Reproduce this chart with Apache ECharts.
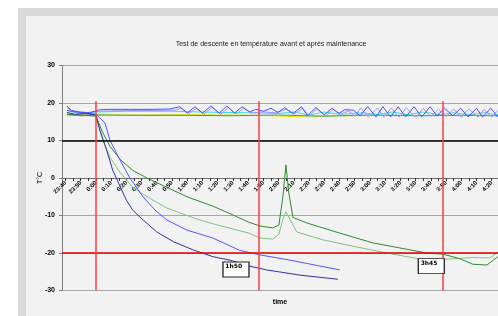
<!DOCTYPE html>
<html><head><meta charset="utf-8">
<script src="https://cdn.jsdelivr.net/npm/echarts@6/dist/echarts.min.js"></script>
<style>html,body{margin:0;padding:0;background:#fff}#c{width:498px;height:316px}</style>
</head><body><div id="c"></div>
<script>
// time in minutes relative to 0:00 ; temperature in °C
const xLabelValues = [-20,-10,0,10,20,30,40,50,60,70,80,90,100,110,120,130,140,150,160,170,180,190,200,210,220,230,240,250,260];
const xTickValues = [-20,-15,-10,-5,0,5,10,15,20,25,30,35,40,45,50,55,60,65,70,75,80,85,90,95,100,105,110,115,120,125,130,135,140,145,150,155,160,165,170,175,180,185,190,195,200,205,210,215,220,225,230,235,240,245,250,255,260,265,270];
const refMarkers = [0, 107, 228];          // red vertical lines
const levelBlack = 10, levelRed = -20;
const boxLabels = [{name:'1h50', t:92, v:-24.4}, {name:'3h45', t:220.3, v:-23.5}];

const navyCurve = [[-19,17.5],[-14,17],[-7,17.2],[0,16.8],[2.5,12.8],[7,7.5],[11,2.1],[16,-2.4],[20,-5.9],[24,-8.5],[31,-11.2],[40,-14.4],[51,-17],[64,-19.2],[77,-21],[88,-21.9],[101,-23.5],[112,-24.5],[134,-25.9],[159,-27]];
const blueCurve = [[-19,18],[-10.5,17.5],[0,17],[2.6,16],[5.9,14.7],[9.2,10.1],[15.8,4.8],[22.3,0],[30.9,-5],[38.7,-8.5],[46.6,-11.2],[59.8,-13.9],[76.8,-16],[94.5,-19.3],[107.7,-20.5],[127.4,-21.9],[160.2,-24.5]];
const darkGreenCurve = [[-19,17],[0,16.5],[4.6,12],[9.2,8.5],[15.8,5],[24.3,2],[33.5,0],[46.6,-2.5],[59.8,-5],[76.8,-7.5],[88,-9.5],[100.5,-11.8],[107.7,-12.8],[116.2,-13.3],[120.2,-12.5],[122.8,-5],[124.8,3.5],[126.7,-4],[129.4,-10.5],[138.6,-12],[160.2,-14.7],[181.9,-17.3],[204.2,-19],[217.4,-20],[227.8,-20.3],[239,-21.5],[247.6,-23],[256.8,-23.2],[264,-21]];
const lightGreenCurve = [[-19,16.8],[0,16.8],[4.6,10],[9.2,5.5],[15.8,1.5],[24.3,-2.5],[33.5,-5],[46.6,-8],[59.8,-10],[68.3,-11.2],[79.5,-12.5],[100.5,-14.7],[107.7,-16],[116.2,-16.3],[120.2,-15],[122.8,-11],[124.8,-9],[127.4,-11],[132,-14.4],[149.1,-16.5],[171.4,-18.4],[191.1,-20],[212.8,-21.6],[227.8,-21.7],[247.6,-21.2],[258.8,-21.3],[264,-19.8]];
const blueZigzag = [[-19,19.2],[-16,18],[-10.5,17.6],[-4,17.4],[2.5,18.2],[9,18.3],[22,18.3],[35.5,18.3],[48.5,18.4],[55,19],[60,17.3],[65,19],[70,17.3],[75.5,19.2],[81,17.3],[86,19.2],[91,17.3],[96,19],[101,17.6],[105,18.3],[110,17.8],[115,18.6],[119.5,17.5],[124,18.7],[129.5,17.2],[135,19],[139,16.6],[144.5,18.8],[150,16.8],[155,18.6],[159.5,17.2],[163.5,18.2],[169,18.1],[173.5,16.6],[178.5,19],[184,16.3],[188.5,19],[193.5,16.3],[198.5,19],[203.5,16.3],[209,19],[214,16.3],[219.5,19],[224,16.6],[229,18.6],[234.5,16.6],[239.5,18.6],[244.5,16.3],[250,18.6],[254,16.3],[259.5,18.6],[264,16.3]];
const lavenderZigzag = [[-19,18.8],[-15,17.6],[-10,17.2],[-3,17.6],[3,17.8],[10,17.9],[25,18],[40,18],[52,18.1],[56,18.6],[61,17.2],[66,18.6],[71,17],[76,18.8],[82,17],[87,18.8],[92,17.1],[97,18.6],[102,17.4],[110,17.6],[118,17.4],[125,18.3],[130,17],[136,18.6],[140,16.4],[145,18.5],[151,16.6],[156,18.3],[161,17],[166,17.9],[170,16.5],[174,18.7],[179,16.2],[185,18.7],[189,16.2],[194,18.7],[199,16.2],[204,18.7],[210,16.2],[215,18.6],[220,16.4],[225,18.4],[230,16.4],[235,18.4],[240,16.2],[245,18.4],[251,16.2],[255,18.3],[260,16.2],[264,18]];
const cyanLine = [[-19,18],[-12,17.3],[0,17.6],[20,17.8],[50,17.8],[80,17.5],[100,17.4],[120,17.2],[130,17.6],[140,16.8],[150,17.6],[160,17],[175,17.4],[185,16.9],[195,17.6],[205,16.9],[215,17.6],[225,16.9],[235,17.4],[245,16.9],[255,17.4],[264,16.9]];
const tealLine = [[-19,17],[-10,16.6],[0,16.8],[30,16.7],[60,16.7],[90,16.6],[120,16.8],[150,16.5],[180,16.8],[210,16.6],[240,16.7],[264,16.6]];
const yellowLine = [[-19,16.6],[-5,16.9],[0,16.9],[30,16.8],[60,16.9],[90,16.8],[110,16.7],[125,16.4],[140,16.3],[160,16.6],[200,16.7],[264,16.7]];

function fmtTime(t){
  const m = ((Math.round(t) % 1440) + 1440) % 1440;
  const h = Math.floor(m/60), mm = m % 60;
  return h + ':' + (mm < 10 ? '0' : '') + mm;
}
function line(name, data, color, z){
  return {name, type:'line', data, showSymbol:false, symbol:'none', z: z||2,
    lineStyle:{color, width:1}, itemStyle:{color}, animation:false, silent:true};
}
const chart = echarts.init(document.getElementById('c'), null, {renderer:'canvas'});
const gridTop = 65.5, gridBottom = 25.5;
const plotH = 316 - gridTop - gridBottom;
const yMin = -30, yMax = 30;
// move x axis (line, ticks, labels) up to the 0 °C level
const xAxisOffset = -plotH * (0 - yMin) / (yMax - yMin);
const markSeries = line('marks', [], '#000', 1);
markSeries.markLine = {
  silent:true, symbol:['none','none'], animation:false, label:{show:false},
  data:[
    {yAxis:levelBlack, lineStyle:{color:'#000', width:1.5, type:'solid'}},
    {yAxis:levelRed, lineStyle:{color:'#e00000', width:1.5, type:'solid'}},
    ...refMarkers.map(t => [{coord:[t,20.5], lineStyle:{color:'#ff3b3b', width:1.5, type:'solid'}},{coord:[t,-30]}])
  ]
};
markSeries.markPoint = {
  silent:true, animation:false, symbol:'rect', symbolSize:[26,15],
  itemStyle:{color:'#fff', borderColor:'#222', borderWidth:1},
  label:{show:true, formatter:'{b}', position:[3,2], fontSize:6, fontWeight:'bold', color:'#000', fontFamily:'DejaVu Sans'},
  data: boxLabels.map(b => ({name:b.name, coord:[b.t, b.v]}))
};
chart.setOption({
  animation:false,
  backgroundColor:'#ffffff',
  title:{text:'Test de descente en température avant et après maintenance', left:266, top:36, textAlign:'center',
    textStyle:{fontSize:7, fontWeight:'normal', color:'#222', fontFamily:'Liberation Sans'}},
  graphic:[
    {type:'rect', z:-10, silent:true, shape:{x:18,y:8,width:500,height:320}, style:{fill:'#d9d9d9'}},
    {type:'rect', z:-9, silent:true, shape:{x:26,y:16,width:490,height:310}, style:{fill:'#f2f2f2'}},
    {type:'text', x:280, y:302, silent:true, style:{text:'time', fontSize:7, fontWeight:'bold', fill:'#000', align:'center', verticalAlign:'middle', fontFamily:'Liberation Sans'}}
  ],
  grid:{left:62, right:-12, top:gridTop, bottom:gridBottom, outerBoundsMode:'none', containLabel:false},
  xAxis:{type:'value', min:-22.3, max:272, position:'bottom', offset:xAxisOffset,
    axisLine:{show:true, onZero:false, lineStyle:{color:'#707070', width:1}},
    axisTick:{show:true, customValues:xTickValues, length:3, lineStyle:{color:'#333'}},
    axisLabel:{customValues:xLabelValues, rotate:45, formatter:fmtTime, fontSize:6, fontWeight:'bold', color:'#000', margin:4, fontFamily:'Liberation Sans'},
    splitLine:{show:false}},
  yAxis:{type:'value', min:yMin, max:yMax, interval:10,
    name:'T°C', nameLocation:'middle', nameGap:18, nameMoveOverlap:false, nameTextStyle:{fontSize:7, color:'#000', fontFamily:'Liberation Sans'},
    axisLine:{show:true, onZero:false, lineStyle:{color:'#808080'}},
    axisTick:{show:true, length:3, lineStyle:{color:'#808080'}},
    axisLabel:{fontSize:7, fontWeight:'bold', color:'#000', margin:7, fontFamily:'Liberation Sans'},
    splitLine:{show:true, lineStyle:{color:'#a6a6a6', width:1}}},
  series:[
    line('jaune', yellowLine, '#e6e600'),
    line('sarcelle', tealLine, '#2a9a9a'),
    line('cyan', cyanLine, '#33e0e0'),
    line('lavande', lavenderZigzag, '#9a9aff'),
    line('bleu', blueZigzag, '#4d4dff'),
    line('vert clair', lightGreenCurve, '#7fc47f'),
    line('vert foncé', darkGreenCurve, '#2e8b2e'),
    line('bleu descente', blueCurve, '#5555ff'),
    line('marine descente', navyCurve, '#3030a0'),
    markSeries
  ]
});
</script></body></html>
